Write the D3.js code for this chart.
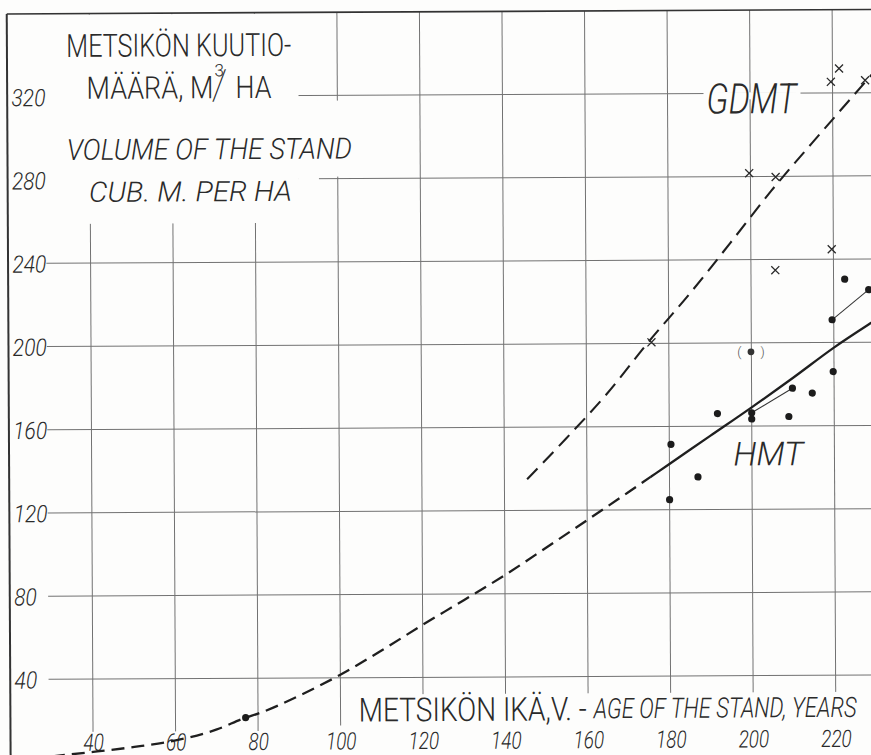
<!DOCTYPE html>
<html>
<head>
<meta charset="utf-8">
<script src="https://cdn.jsdelivr.net/npm/d3@7"></script>
<style>
  html, body { margin: 0; padding: 0; background: #fdfdfc; }
  svg { display: block; }
  text { fill: #2a2a2a; font-family: Roboto, "Liberation Sans", sans-serif; font-weight: 300; }
</style>
</head>
<body>
<svg id="chart" width="871" height="755"></svg>
<script>
// Axis ticks
const ageTicks = [40, 60, 80, 100, 120, 140, 160, 180, 200, 220];
const volTicks = [40, 80, 120, 160, 200, 240, 280, 320];

// Frame limits of the drawing (age, volume)
const ageMin = 20;
const volMax = 360;

// HMT growth curve: dashed where extrapolated, solid from hmtSolidFrom onward
const hmtAge = [30, 40, 50, 60, 70, 77, 80, 90, 100, 110, 120, 130, 140, 150, 160, 170, 180, 190, 200, 210, 220, 230, 240];
const hmtVol = [3, 5, 7.3, 10.3, 15.5, 21.1, 23, 31.5, 41.5, 53, 65.3, 77, 89, 102, 115.2, 128.5, 142, 155.5, 169, 183, 197.5, 210.5, 223];
const hmtSolidFrom = 175.5;

// GDMT growth curve (dashed)
const gdmtAge = [145.5, 155, 165, 175, 185, 195, 205, 215, 225, 235];
const gdmtVol = [135, 154.5, 176, 200.5, 223.5, 248, 273, 296, 318.5, 341];

// Sample plots, GDMT (crosses)
const gdmtObsAge = [175.8, 199.7, 206.1, 205.9, 219.6, 219.6, 221.6, 227.9];
const gdmtObsVol = [200.5, 281.6, 279.7, 234.9, 244.8, 325.3, 331.7, 326];

// Sample plots, HMT (dots)
const hmtObsAge = [222.7, 228.5, 219.6, 219.8, 209.9, 214.7, 200, 200, 191.7, 209, 180.4, 186.9, 180, 77];
const hmtObsVol = [230.4, 225.3, 210.9, 186, 178.1, 175.7, 166.4, 163.4, 166.1, 164.5, 151.4, 135.7, 124.8, 21.1];

// Uncertain plot, shown in brackets
const bracketAge = [199.9];
const bracketVol = [195.7];

// Repeated measurements joined by thin lines: [age1, vol1, age2, vol2]
const linkedPlots = [
  [219.6, 210.9, 228.5, 225.3],
  [200, 166.4, 209.9, 178.1]
];

const W = 871, H = 755;
const svg = d3.select("#chart");

const x = d3.scaleLinear().domain([40, 220]).range([91.2, 91.2 + 180 * 4.127]);
const y = d3.scaleLinear().domain([0, 320]).range([760.5, 760.5 - 320 * 2.08]);

const ink = "#1f1f1f";
const g = svg.append("g").attr("transform", "rotate(-0.3, 440, 380)");

const frameLeft = x(ageMin), frameTop = y(volMax);

// Grid
const grid = g.append("g").attr("stroke", "#727272").attr("stroke-width", 1);
grid.selectAll("line.v").data(ageTicks).join("line")
  .attr("x1", d => x(d)).attr("x2", d => x(d))
  .attr("y1", frameTop).attr("y2", H + 20);
grid.selectAll("line.h").data(volTicks).join("line")
  .attr("x1", 47).attr("x2", W + 20)
  .attr("y1", d => y(d)).attr("y2", d => y(d));

// Blank areas for the lettering
const bg = "#fdfdfc";
const blank = g.append("g").attr("fill", bg);
[
  [frameLeft + 1, frameTop + 1, 300, 222],
  [300, 100, 358, 176],
  [300, 176, 320, 190],
  [705, 94, 802, 101],
  [345, 694, W + 20, H + 20],
  [330, 725, 345, H + 20],
  [frameLeft + 1, 730, 330, H + 20]
].forEach(([x0, y0, x1, y1]) => {
  blank.append("rect").attr("x", x0).attr("y", y0).attr("width", x1 - x0).attr("height", y1 - y0);
});

// Frame
g.append("line").attr("x1", frameLeft).attr("x2", frameLeft).attr("y1", frameTop).attr("y2", H + 20)
  .attr("stroke", "#333").attr("stroke-width", 2);
g.append("line").attr("x1", frameLeft).attr("x2", W + 20).attr("y1", frameTop).attr("y2", frameTop)
  .attr("stroke", "#333").attr("stroke-width", 1.6);

// Y axis labels
const yAxis = d3.axisLeft(y).tickValues(volTicks).tickSize(0).tickPadding(0).tickFormat(d3.format("d"));
const ya = g.append("g").attr("transform", "translate(13,0)").call(yAxis);
ya.select(".domain").remove();
ya.attr("font-family", null).attr("font-size", null);
ya.selectAll("text")
  .attr("x", 0).attr("dy", "0.36em")
  .attr("text-anchor", "start")
  .style("font-size", "24px").style("font-style", "italic")
  .attr("textLength", d => String(d).length * 11.3)
  .attr("lengthAdjust", "spacingAndGlyphs")
  .attr("fill", "#2a2a2a");

// X axis labels
const xAxis = d3.axisBottom(x).tickValues(ageTicks).tickSize(0).tickPadding(0).tickFormat(d3.format("d"));
const xa = g.append("g").attr("transform", "translate(0,749)").call(xAxis);
xa.select(".domain").remove();
xa.attr("font-family", null).attr("font-size", null);
xa.selectAll("text")
  .attr("y", 0).attr("dy", 0)
  .style("font-size", "24px").style("font-style", "italic")
  .attr("textLength", d => String(d).length * 10.2)
  .attr("lengthAdjust", "spacingAndGlyphs")
  .attr("fill", "#2a2a2a");

// Lettering
function label(txt, x0, base, size, width, italic) {
  return g.append("text").attr("x", x0).attr("y", base)
    .style("font-size", size + "px").style("font-style", italic ? "italic" : "normal")
    .attr("textLength", width).attr("lengthAdjust", "spacingAndGlyphs")
    .text(txt);
}
label("METSIKÖN KUUTIO-", 68, 55, 32, 225, false);

// "MÄÄRÄ, M³/HA" as one text with placed parts
const unit = g.append("text");
unit.append("tspan").attr("x", 88).attr("y", 97).style("font-size", "31px")
  .attr("textLength", 127).attr("lengthAdjust", "spacingAndGlyphs").text("MÄÄRÄ, M");
unit.append("tspan").attr("x", 216).attr("y", 75).style("font-size", "17px").text("3");
unit.append("tspan").attr("x", 213).attr("y", 98).style("font-size", "42px")
  .style("font-weight", "100").text("/");
unit.append("tspan").attr("x", 237).attr("y", 97).style("font-size", "31px")
  .attr("textLength", 36).attr("lengthAdjust", "spacingAndGlyphs").text("HA");

label("VOLUME OF THE STAND", 68, 158, 29, 285, true);
label("CUB. M. PER HA", 90, 200, 28, 203, true);
label("GDMT", 708, 115, 42, 90, true);
label("HMT", 733, 467, 33, 70, true);
label("METSIKÖN IKÄ,V. -", 357, 721, 33, 228, false);
label("AGE OF THE STAND, YEARS", 592, 719, 28, 263, true);

// Curves
const lineGen = d3.line().x(d => x(d[0])).y(d => y(d[1])).curve(d3.curveMonotoneX);
const hmtPts = hmtAge.map((a, i) => [a, hmtVol[i]]);
const gdmtPts = gdmtAge.map((a, i) => [a, gdmtVol[i]]);

const defs = svg.append("defs");
defs.append("clipPath").attr("id", "clipDash").append("rect")
  .attr("x", -50).attr("y", -50).attr("width", x(hmtSolidFrom) + 50).attr("height", H + 100);
defs.append("clipPath").attr("id", "clipSolid").append("rect")
  .attr("x", x(hmtSolidFrom)).attr("y", -50).attr("width", W + 100).attr("height", H + 100);

g.append("path").attr("d", lineGen(hmtPts)).attr("clip-path", "url(#clipDash)")
  .attr("fill", "none").attr("stroke", ink).attr("stroke-width", 2.3)
  .attr("stroke-dasharray", "13,7");
g.append("path").attr("d", lineGen(hmtPts)).attr("clip-path", "url(#clipSolid)")
  .attr("fill", "none").attr("stroke", ink).attr("stroke-width", 2.3);
g.append("path").attr("d", lineGen(gdmtPts))
  .attr("fill", "none").attr("stroke", ink).attr("stroke-width", 2.1)
  .attr("stroke-dasharray", "15,8");

// Linked plots
g.selectAll("line.link").data(linkedPlots).join("line")
  .attr("x1", d => x(d[0])).attr("y1", d => y(d[1]))
  .attr("x2", d => x(d[2])).attr("y2", d => y(d[3]))
  .attr("stroke", "#333").attr("stroke-width", 1);

// Crosses
const cs = 4;
const crosses = g.append("g").attr("stroke", "#2a2a2a").attr("stroke-width", 1.3);
gdmtObsAge.forEach((a, i) => {
  const cx = x(a), cy = y(gdmtObsVol[i]);
  crosses.append("path").attr("d", `M${cx - cs},${cy - cs}L${cx + cs},${cy + cs}M${cx - cs},${cy + cs}L${cx + cs},${cy - cs}`);
});

// Dots
g.selectAll("circle.obs").data(hmtObsAge).join("circle")
  .attr("cx", (a) => x(a)).attr("cy", (a, i) => y(hmtObsVol[i]))
  .attr("r", 3.6).attr("fill", "#1c1c1c");

// Bracketed plot
bracketAge.forEach((a, i) => {
  const cx = x(a), cy = y(bracketVol[i]);
  g.append("circle").attr("cx", cx).attr("cy", cy).attr("r", 3.4).attr("fill", "#333");
  g.append("text").attr("x", cx).attr("y", cy + 4.5).attr("text-anchor", "middle")
    .style("font-size", "13px").style("fill", "#555")
    .attr("xml:space", "preserve").text("(      )");
});
</script>
</body>
</html>
